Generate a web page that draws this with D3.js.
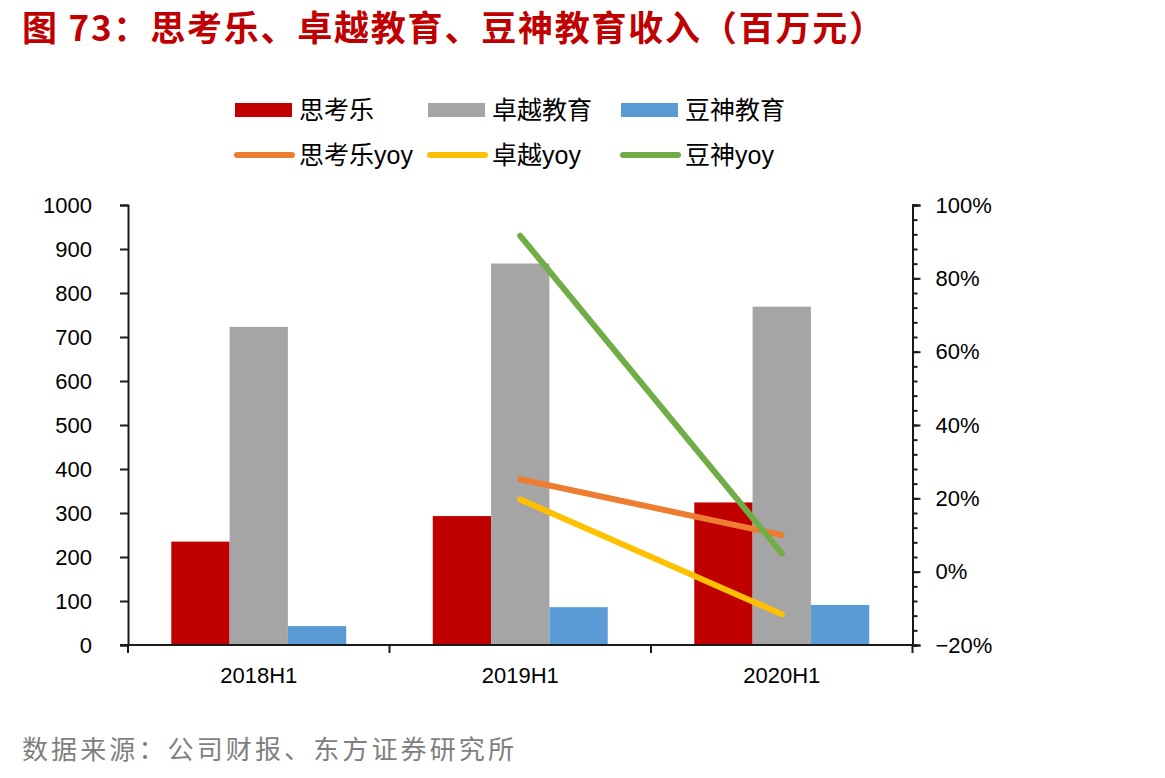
<!DOCTYPE html>
<html>
<head>
<meta charset="utf-8">
<script src="https://cdn.jsdelivr.net/npm/d3@7"></script>
<style>
  body { margin: 0; background: #fff; }
  svg { display: block; }
</style>
</head>
<body>
<div id="chart"></div>
<script>
// data
const categories = ["2018H1", "2019H1", "2020H1"];
const barSeries = ["思考乐", "卓越教育", "豆神教育"];
const sikaole = [235, 293, 324];
const zhuoyue = [723, 867, 769];
const doushen = [43, 86, 91];
const lineSeries = ["思考乐yoy", "卓越yoy", "豆神yoy"];
const sikaoleYoy = [null, 25.2, 10.0];
const zhuoyueYoy = [null, 19.7, -11.6];
const doushenYoy = [null, 91.6, 5.0];
const leftTicks = [0, 100, 200, 300, 400, 500, 600, 700, 800, 900, 1000];
const rightTicks = [-20, 0, 20, 40, 60, 80, 100];

const barColors = ["#c00000", "#a5a5a5", "#5b9bd5"];
const lineColors = ["#ed7d31", "#ffc000", "#70ad47"];

const W = 1165, H = 778;
const plot = {left: 128, right: 912.5, top: 205, bottom: 645};
const cjk = "'Noto Sans CJK SC', sans-serif";
const latin = "'Liberation Sans', Arial, 'Noto Sans CJK SC', sans-serif";

const svg = d3.select("#chart").append("svg")
    .attr("width", W).attr("height", H);

// title + source
svg.append("text")
    .attr("x", 22).attr("y", 41)
    .attr("textLength", 862).attr("lengthAdjust", "spacing")
    .style("font-family", cjk).style("font-size", "35px").style("font-weight", "bold")
    .style("fill", "#c00000")
    .text("图 73：思考乐、卓越教育、豆神教育收入（百万元）");

svg.append("text")
    .attr("x", 22).attr("y", 759)
    .attr("textLength", 492).attr("lengthAdjust", "spacing")
    .style("font-family", cjk).style("font-size", "26px")
    .style("fill", "#7f7f7f")
    .text("数据来源：公司财报、东方证券研究所");

// scales
const x = d3.scaleBand().domain(categories).range([plot.left, plot.right]);
const bw = x.bandwidth();
const x1 = d3.scaleBand().domain(barSeries).range([bw * 0.1655, bw * 0.8345]);
const y = d3.scaleLinear().domain([0, 1000]).range([plot.bottom, plot.top]);
const y2 = d3.scaleLinear().domain([-20, 100]).range([plot.bottom, plot.top]);

const barData = [sikaole, zhuoyue, doushen];
const lineData = [sikaoleYoy, zhuoyueYoy, doushenYoy];

// bars
barData.forEach((vals, s) => {
    svg.append("g").selectAll("rect")
        .data(vals)
        .enter().append("rect")
        .attr("x", (d, i) => x(categories[i]) + x1(barSeries[s]))
        .attr("y", d => y(d))
        .attr("width", x1.bandwidth())
        .attr("height", d => y(0) - y(d))
        .style("fill", barColors[s]);
});

// axes
const axisColor = "#1a1a1a";
const gl = svg.append("g").attr("transform", `translate(${plot.left},0)`)
    .call(d3.axisLeft(y).tickValues(leftTicks).tickSize(8).tickPadding(28).tickFormat(d3.format("d")));
const gx = svg.append("g").attr("transform", `translate(0,${plot.bottom})`)
    .call(d3.axisBottom(x).tickSize(0).tickPadding(22));
// category boundary ticks
gx.selectAll(".sep")
    .data(d3.range(categories.length + 1))
    .enter().append("line")
    .attr("x1", i => plot.left + i * bw).attr("x2", i => plot.left + i * bw)
    .attr("y1", 0).attr("y2", 8);
gx.append("line").attr("x1", plot.left - 8).attr("x2", plot.right).attr("y1", 0).attr("y2", 0);

const gr = svg.append("g").attr("transform", `translate(${plot.right},0)`)
    .call(d3.axisRight(y2).tickValues(d3.range(-20, 101, 4)).tickSize(5).tickFormat(""));
const gr2 = svg.append("g").attr("transform", `translate(${plot.right},0)`)
    .call(d3.axisRight(y2).tickValues(rightTicks).tickSize(8).tickPadding(15)
        .tickFormat(d => (d < 0 ? "\u2212" + Math.abs(d) : d) + "%"));

[gl, gx, gr, gr2].forEach(g => {
    g.selectAll("path").attr("stroke", axisColor).attr("stroke-width", 2);
    g.selectAll("line").attr("stroke", axisColor).attr("stroke-width", 2);
    g.selectAll("text").style("font-family", latin).style("font-size", "22px").style("fill", "#000");
});
gx.select(".domain").remove();

// yoy lines
const line = d3.line()
    .defined(d => d != null)
    .x((d, i) => x(categories[i]) + bw / 2)
    .y(d => y2(d));
lineData.forEach((vals, s) => {
    svg.append("path")
        .datum(vals)
        .attr("d", line)
        .attr("fill", "none")
        .attr("stroke", lineColors[s])
        .attr("stroke-width", 6)
        .attr("stroke-linecap", "round");
});

// legend
const legX = [235, 428, 621];
const leg = svg.append("g");
barSeries.forEach((name, i) => {
    leg.append("rect").attr("x", legX[i]).attr("y", 103).attr("width", 57).attr("height", 14)
        .style("fill", barColors[i]);
    leg.append("text").attr("x", legX[i] + 64).attr("y", 110)
        .attr("dominant-baseline", "central")
        .style("font-family", latin).style("font-size", "25px")
        .text(name);
});
lineSeries.forEach((name, i) => {
    leg.append("line").attr("x1", legX[i] + 2).attr("x2", legX[i] + 57)
        .attr("y1", 155).attr("y2", 155)
        .attr("stroke", lineColors[i]).attr("stroke-width", 6).attr("stroke-linecap", "round");
    leg.append("text").attr("x", legX[i] + 64).attr("y", 155)
        .attr("dominant-baseline", "central")
        .style("font-family", latin).style("font-size", "25px")
        .text(name);
});
</script>
</body>
</html>
